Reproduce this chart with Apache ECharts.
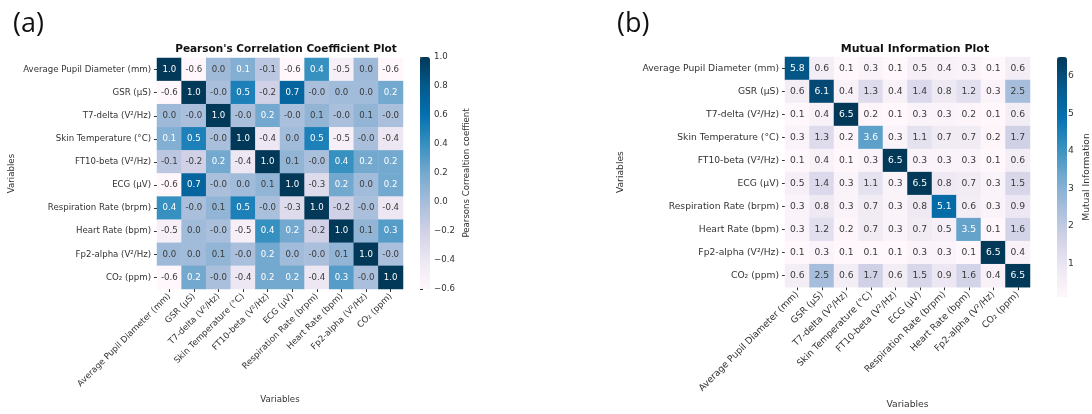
<!DOCTYPE html>
<html>
<head>
<meta charset="utf-8">
<script src="https://cdn.jsdelivr.net/npm/echarts@6/dist/echarts.min.js"></script>
<style>
  html,body{margin:0;padding:0;background:#fff;}
  #chart{width:1092px;height:414px;}
</style>
</head>
<body>
<div id="chart"></div>
<script>
// variables on both axes
var variables = [
  'Average Pupil Diameter (mm)', 'GSR (µS)', 'T7-delta (V²/Hz)', 'Skin Temperature (°C)',
  'FT10-beta (V²/Hz)', 'ECG (µV)', 'Respiration Rate (brpm)', 'Heart Rate (bpm)',
  'Fp2-alpha (V²/Hz)', 'CO₂ (ppm)'
];

// (a) pearson correlation, rows top to bottom
var pearson = [
  [ 1.0, -0.6,  0.03,  0.14, -0.1, -0.6,  0.4, -0.5,  0.03, -0.6],
  [-0.6,  1.0, -0.02,  0.5, -0.2,  0.7, -0.02, 0.02, 0.02,  0.2],
  [ 0.03,-0.02, 1.0, -0.02,  0.2, -0.02, 0.08,-0.02, 0.08, -0.02],
  [ 0.14, 0.5, -0.02,  1.0, -0.4,  0.02, 0.5, -0.5, -0.02, -0.4],
  [-0.1, -0.2,  0.2,  -0.4,  1.0,  0.08,-0.02, 0.4,  0.2,   0.2],
  [-0.6,  0.7, -0.02,  0.02, 0.08, 1.0, -0.3,  0.2,  0.02,  0.2],
  [ 0.4, -0.02, 0.08,  0.5, -0.02,-0.3,  1.0, -0.2, -0.02, -0.4],
  [-0.5,  0.02,-0.02, -0.5,  0.4,  0.2, -0.2,  1.0,  0.08,  0.3],
  [ 0.03, 0.02, 0.08, -0.02, 0.2,  0.02,-0.02, 0.08, 1.0,  -0.02],
  [-0.6,  0.2, -0.02, -0.4,  0.2,  0.2, -0.4,  0.3, -0.02,  1.0]
];

// (b) mutual information, rows top to bottom
var mutualInfo = [
  [5.8, 0.6, 0.1, 0.3, 0.1, 0.5, 0.4, 0.3, 0.1, 0.6],
  [0.6, 6.1, 0.4, 1.3, 0.4, 1.4, 0.8, 1.2, 0.3, 2.5],
  [0.1, 0.4, 6.5, 0.2, 0.1, 0.3, 0.3, 0.2, 0.1, 0.6],
  [0.3, 1.3, 0.2, 3.6, 0.3, 1.1, 0.7, 0.7, 0.2, 1.7],
  [0.1, 0.4, 0.1, 0.3, 6.5, 0.3, 0.3, 0.3, 0.1, 0.6],
  [0.5, 1.4, 0.3, 1.1, 0.3, 6.5, 0.8, 0.7, 0.3, 1.5],
  [0.3, 0.8, 0.3, 0.7, 0.3, 0.8, 5.1, 0.6, 0.3, 0.9],
  [0.3, 1.2, 0.2, 0.7, 0.3, 0.7, 0.5, 3.5, 0.1, 1.6],
  [0.1, 0.3, 0.1, 0.1, 0.1, 0.3, 0.3, 0.1, 6.5, 0.4],
  [0.6, 2.5, 0.6, 1.7, 0.6, 1.5, 0.9, 1.6, 0.4, 6.5]
];

var miTicks = [1, 2, 3, 4, 5, 6];

var PuBu = ['#fff7fb', '#ece7f2', '#d0d1e6', '#a6bddb', '#74a9cf', '#3690c0', '#0570b0', '#045a8d', '#023858'];
var FONT = 'DejaVu Sans';

function toCells(matrix, lightAt) {
  var out = [];
  matrix.forEach(function (row, y) {
    row.forEach(function (v, x) {
      out.push({
        value: [x, y, v],
        label: { color: v >= lightAt ? '#ffffff' : '#3a3a3a' }
      });
    });
  });
  return out;
}

function catX(gridIndex, nameGap, fs) {
  return {
    type: 'category', gridIndex: gridIndex, data: variables,
    name: 'Variables', nameLocation: 'middle', nameGap: nameGap,
    nameTextStyle: { fontFamily: FONT, fontSize: fs, color: '#333' },
    axisLine: { show: false },
    axisTick: { show: true, alignWithLabel: true, length: 3, lineStyle: { color: '#333' } },
    axisLabel: { rotate: 45, interval: 0, margin: 6, fontFamily: FONT, fontSize: fs, color: '#333' },
    splitLine: { show: false }
  };
}
function catY(gridIndex, nameGap, fs) {
  return {
    type: 'category', gridIndex: gridIndex, data: variables, inverse: true,
    name: 'Variables', nameLocation: 'middle', nameGap: nameGap,
    nameTextStyle: { fontFamily: FONT, fontSize: fs, color: '#333' },
    axisLine: { show: false },
    axisTick: { show: true, alignWithLabel: true, length: 3, lineStyle: { color: '#333' } },
    axisLabel: { interval: 0, margin: 6, fontFamily: FONT, fontSize: fs, color: '#333' },
    splitLine: { show: false }
  };
}

var chart = echarts.init(document.getElementById('chart'));
chart.setOption({
  animation: false,
  backgroundColor: '#fff',
  title: [
    { text: 'Pearson\'s Correlation Coefficient Plot', left: 281, top: 39, textAlign: 'center',
      textStyle: { fontFamily: FONT, fontSize: 10.5, fontWeight: 'bold', color: '#111' } },
    { text: 'Mutual Information Plot', left: 910, top: 39, textAlign: 'center',
      textStyle: { fontFamily: FONT, fontSize: 11, fontWeight: 'bold', color: '#111' } },
    { text: '(a)', left: 8, top: 6, textStyle: { fontFamily: 'Open Sans', fontSize: 27, fontWeight: 'normal', color: '#111' } },
    { text: '(b)', left: 612, top: 6, textStyle: { fontFamily: 'Open Sans', fontSize: 27, fontWeight: 'normal', color: '#111' } }
  ],
  grid: [
    { left: 157, top: 58, width: 246, height: 231 },
    { left: 785, top: 57, width: 245, height: 240 },
    { left: 420, top: 57, width: 10, height: 232 },
    { left: 1057, top: 57, width: 10, height: 240 }
  ],
  xAxis: [
    catX(0, 102, 8.6),
    catX(1, 106, 9.2),
    { type: 'value', gridIndex: 2, show: false, min: 0, max: 1 },
    { type: 'value', gridIndex: 3, show: false, min: 0, max: 1 }
  ],
  yAxis: [
    catY(0, 141, 8.6),
    catY(1, 160, 9.2),
    {
      type: 'value', gridIndex: 2, position: 'right', min: -0.6, max: 1.0, interval: 0.2,
      name: 'Pearsons Correaltion coeffient', nameLocation: 'middle', nameGap: 32,
      nameTextStyle: { fontFamily: FONT, fontSize: 8.6, color: '#333' },
      axisLine: { show: false }, splitLine: { show: false },
      axisTick: { show: true, length: 3, lineStyle: { color: '#333' } },
      axisLabel: { margin: 4, fontFamily: FONT, fontSize: 8.6, color: '#333',
        formatter: function (v) { return v.toFixed(1).replace('-', '\u2212'); } }
    },
    {
      type: 'value', gridIndex: 3, position: 'right', min: 0.1, max: 6.5,
      name: 'Mutual Information', nameLocation: 'middle', nameGap: 18,
      nameTextStyle: { fontFamily: FONT, fontSize: 9.2, color: '#333' },
      axisLine: { show: false }, splitLine: { show: false },
      axisTick: { show: true, length: 3, customValues: miTicks, lineStyle: { color: '#333' } },
      axisLabel: { margin: 4, fontFamily: FONT, fontSize: 9.2, color: '#333', customValues: miTicks }
    }
  ],
  visualMap: [
    {
      type: 'continuous', seriesIndex: 0, min: -0.6, max: 1.0,
      orient: 'vertical', left: 420, top: 57, itemWidth: 10, itemHeight: 232,
      padding: 0, text: null, calculable: false, showLabel: false, hoverLink: false,
      inRange: { color: PuBu }
    },
    {
      type: 'continuous', seriesIndex: 1, min: 0.1, max: 6.5,
      orient: 'vertical', left: 1057, top: 57, itemWidth: 10, itemHeight: 240,
      padding: 0, text: null, calculable: false, showLabel: false, hoverLink: false,
      inRange: { color: PuBu }
    }
  ],
  series: [
    {
      type: 'heatmap', xAxisIndex: 0, yAxisIndex: 0,
      data: toCells(pearson, 0.12),
      label: { show: true, fontFamily: FONT, fontSize: 8.6,
        formatter: function (p) { return p.value[2].toFixed(1); } }
    },
    {
      type: 'heatmap', xAxisIndex: 1, yAxisIndex: 1,
      data: toCells(mutualInfo, 3),
      label: { show: true, fontFamily: FONT, fontSize: 9.2,
        formatter: function (p) { return p.value[2].toFixed(1); } }
    }
  ]
});
</script>
</body>
</html>
